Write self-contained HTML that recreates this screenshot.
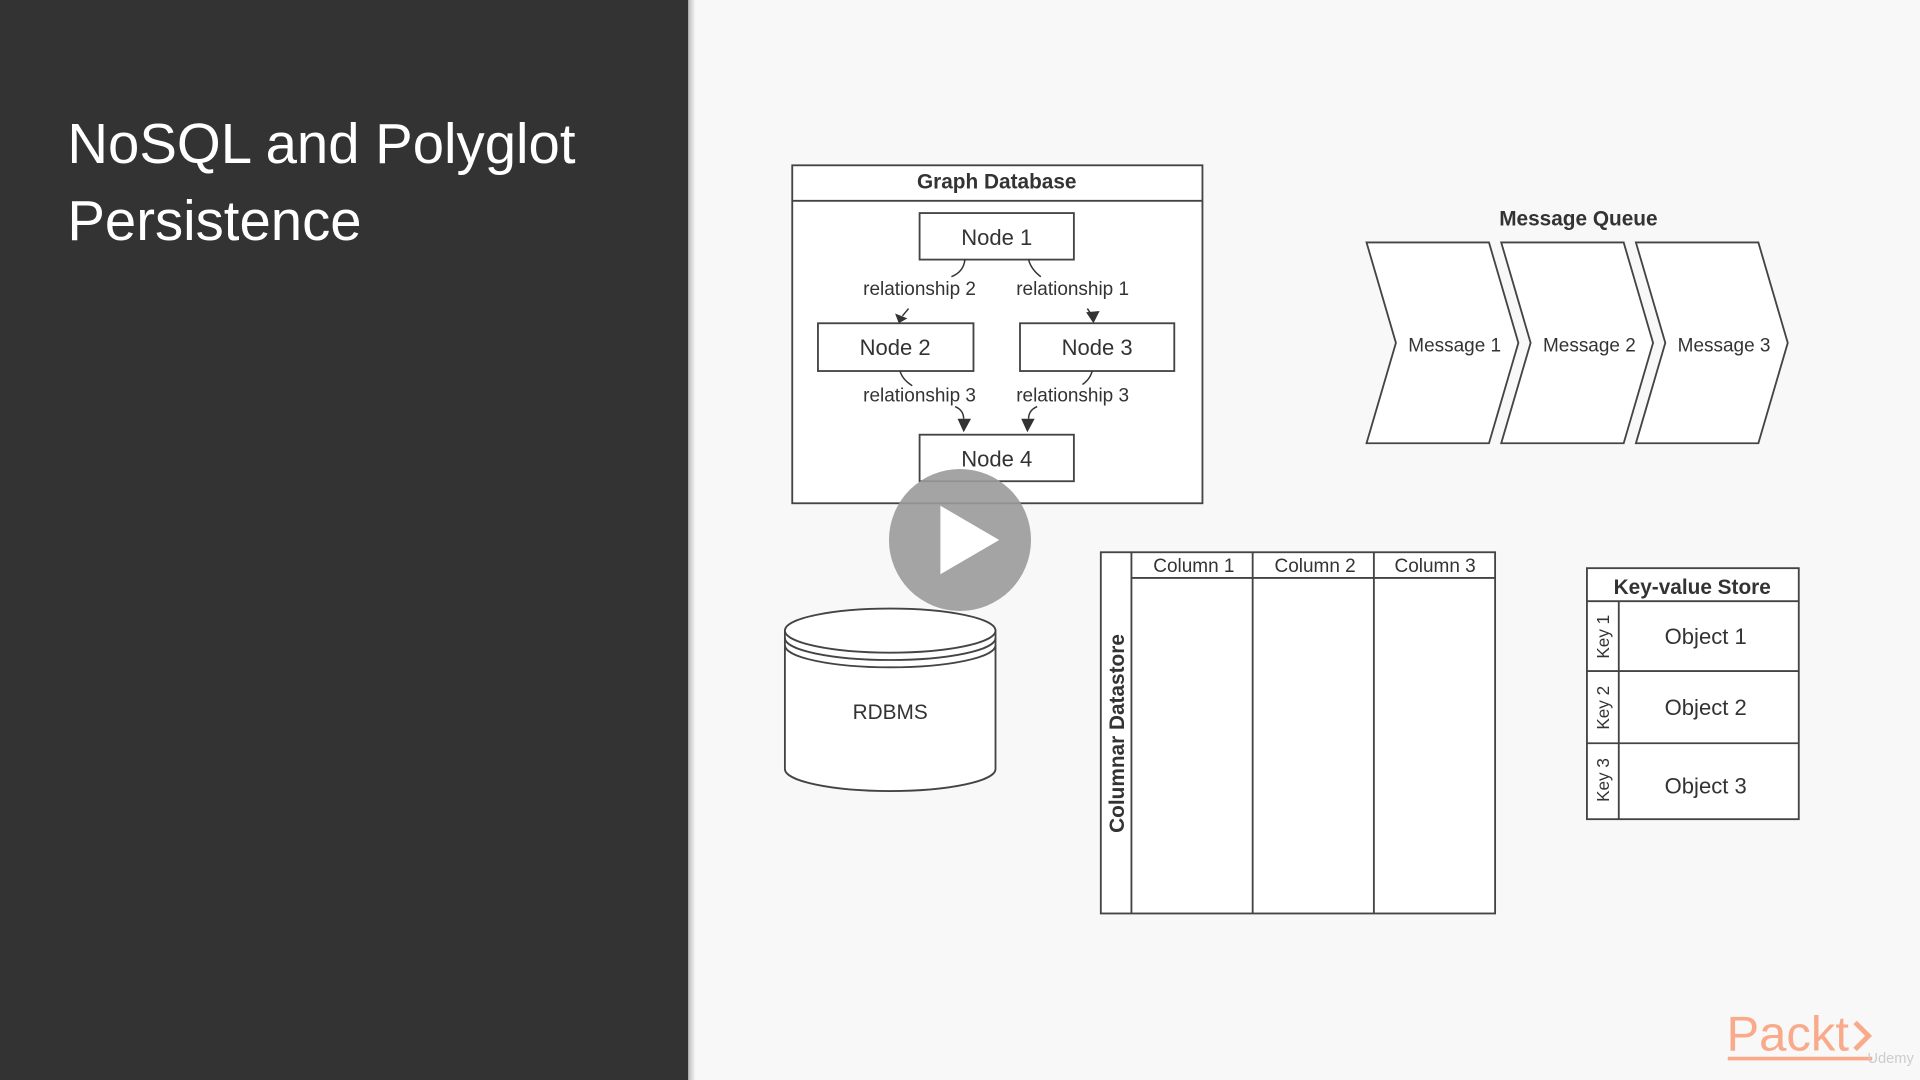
<!DOCTYPE html>
<html><head><meta charset="utf-8"><style>
html,body{margin:0;padding:0;width:1920px;height:1080px;overflow:hidden;background:#f8f8f8}
svg{display:block}
text{font-family:"Liberation Sans",sans-serif;fill:#333}
</style></head><body>
<svg width="1920" height="1080" viewBox="0 0 1568 882" xmlns="http://www.w3.org/2000/svg">
<defs><linearGradient id="sh" x1="0" x2="1"><stop offset="0" stop-color="#000" stop-opacity="0.25"/><stop offset="1" stop-color="#000" stop-opacity="0"/></linearGradient>
<marker id="ar" viewBox="0 0 10 10" refX="5" refY="9" markerWidth="5" markerHeight="5" orient="auto-start-reverse"><path d="M0,0 L10,0 L5,10 Z" fill="#333" transform="rotate(0)"/></marker></defs>
<rect x="0" y="0" width="1568" height="882" fill="#f8f8f8"/>
<rect x="0" y="0" width="562" height="882" fill="#333333"/>
<rect x="562" y="0" width="6" height="882" fill="url(#sh)"/>
<text x="55" y="133" font-size="46" style="fill:#fff">NoSQL and Polyglot</text>
<text x="55" y="196" font-size="46" style="fill:#fff">Persistence</text>

<g stroke="#444" stroke-width="1.5" fill="#fff">
<rect x="647" y="135" width="335" height="276"/>
<line x1="647" y1="164" x2="982" y2="164"/>
<rect x="751" y="174" width="126" height="38"/>
<rect x="668" y="264" width="127" height="39"/>
<rect x="833" y="264" width="126" height="39"/>
<rect x="751" y="355" width="126" height="38"/>
</g>
<text x="814" y="154" font-size="17" font-weight="bold" text-anchor="middle">Graph Database</text>
<g font-size="18" text-anchor="middle">
<text x="814" y="200">Node 1</text><text x="731" y="290">Node 2</text><text x="896" y="290">Node 3</text><text x="814" y="381">Node 4</text></g>
<g font-size="15.5" text-anchor="middle">
<text x="751" y="241">relationship 2</text><text x="876" y="241">relationship 1</text>
<text x="751" y="328">relationship 3</text><text x="876" y="328">relationship 3</text></g>
<g stroke="#333" stroke-width="1.2" fill="none">
<path d="M788,212 Q787,222 777,226"/><path d="M840,212 Q842,220 850,226"/>
<path d="M742,252 L737,258"/><path d="M888,252 L892,258"/>
<path d="M735,303 Q737,310 745,315"/><path d="M892,303 Q890,310 884,314"/>
<path d="M780,332 Q787,335 787,342"/><path d="M847,332 Q840,335 840,342"/>
</g>
<g fill="#333">
<path d="M731,256 L741,260 L734,264 Z"/>
<path d="M887,255 L898,254 L893,264 Z"/>
<path d="M782,342 L793,342 L787,353 Z"/>
<path d="M834,342 L845,342 L839,353 Z"/>
</g>

<text x="1289" y="184" font-size="17" font-weight="bold" text-anchor="middle">Message Queue</text>
<g stroke="#444" stroke-width="1.5" fill="#fff">
<path d="M1116,198 L1216,198 L1240,280 L1216,362 L1116,362 L1140,280 Z"/>
<path d="M1226,198 L1326,198 L1350,280 L1326,362 L1226,362 L1250,280 Z"/>
<path d="M1336,198 L1436,198 L1460,280 L1436,362 L1336,362 L1360,280 Z"/>
</g>
<g font-size="15.5" text-anchor="middle"><text x="1188" y="287">Message 1</text><text x="1298" y="287">Message 2</text><text x="1408" y="287">Message 3</text></g>

<g stroke="#444" stroke-width="1.5" fill="#fff">
<path d="M641,515 L641,628 A86,18 0 0 0 813,628 L813,515"/>
<ellipse cx="727" cy="515" rx="86" ry="18"/>
<path d="M641,521 A86,18 0 0 0 813,521" fill="none"/>
<path d="M641,527 A86,18 0 0 0 813,527" fill="none"/>
</g>
<text x="727" y="587" font-size="17" text-anchor="middle">RDBMS</text>

<circle cx="784" cy="441" r="58" fill="#9a9a9a" opacity="0.9"/>
<path d="M768,413 L768,469 L816,441 Z" fill="#fff"/>

<g stroke="#444" stroke-width="1.5" fill="#fff">
<rect x="899" y="451" width="322" height="295"/>
<line x1="924" y1="451" x2="924" y2="746"/>
<line x1="924" y1="472" x2="1221" y2="472"/>
<line x1="1023" y1="451" x2="1023" y2="746"/>
<line x1="1122" y1="451" x2="1122" y2="746"/>
</g>
<g font-size="15.5" text-anchor="middle"><text x="975" y="467">Column 1</text><text x="1074" y="467">Column 2</text><text x="1172" y="467">Column 3</text></g>
<text x="0" y="0" font-size="17" font-weight="bold" text-anchor="middle" transform="translate(918,599) rotate(-90)">Columnar Datastore</text>

<g stroke="#444" stroke-width="1.5" fill="#fff">
<rect x="1296" y="464" width="173" height="205"/>
<line x1="1296" y1="491" x2="1469" y2="491"/>
<line x1="1322" y1="491" x2="1322" y2="669"/>
<line x1="1296" y1="548" x2="1469" y2="548"/>
<line x1="1296" y1="607" x2="1469" y2="607"/>
</g>
<text x="1382" y="485" font-size="17" font-weight="bold" text-anchor="middle">Key-value Store</text>
<g font-size="18" text-anchor="middle"><text x="1393" y="526">Object 1</text><text x="1393" y="584">Object 2</text><text x="1393" y="648">Object 3</text></g>
<g font-size="14" text-anchor="middle">
<text transform="translate(1314,520) rotate(-90)">Key 1</text>
<text transform="translate(1314,578) rotate(-90)">Key 2</text>
<text transform="translate(1314,637) rotate(-90)">Key 3</text></g>

<text x="1410" y="858" font-size="40" style="fill:#f9aa8a" font-weight="normal">Packt</text>
<path d="M1515,835 L1526,846 L1515,857" stroke="#f9aa8a" stroke-width="4" fill="none"/>
<rect x="1411" y="863" width="118" height="3" fill="#f9aa8a"/>
<text x="1525" y="868" font-size="12" style="fill:#ccc">Udemy</text>
</svg>
</body></html>
